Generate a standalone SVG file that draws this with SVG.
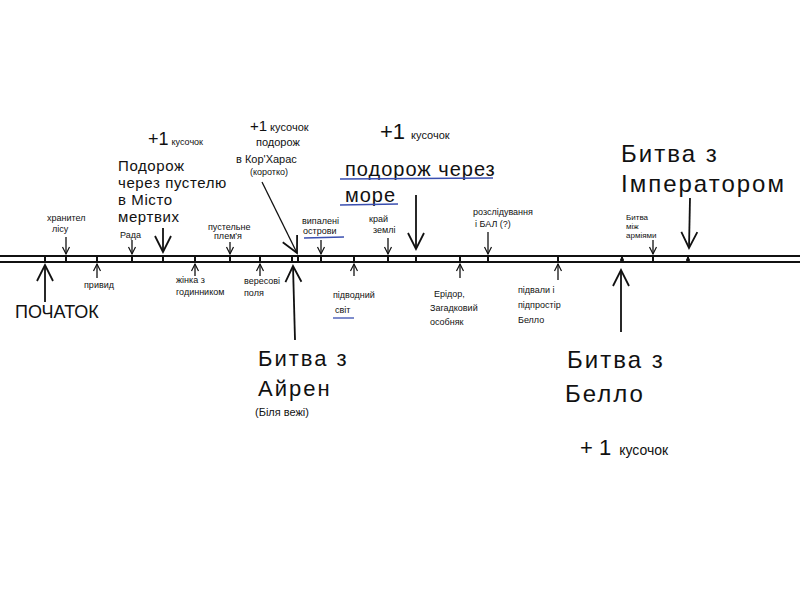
<svg xmlns="http://www.w3.org/2000/svg" width="800" height="600" viewBox="0 0 800 600">
<style>
text{font-family:"Liberation Sans","DejaVu Sans",sans-serif;fill:#111}
.s{font-size:9px}
.m{font-size:11px}
.b{font-size:18px}
.d{font-size:15px;letter-spacing:0.6px}
.xl{font-size:22px;letter-spacing:2px}
.c{stroke:#111;stroke-width:1.3;fill:none}
.cb{stroke:#111;stroke-width:1.8;fill:none}
.u{stroke:#3a4fb0;stroke-width:1.3;fill:none}
.tl{stroke:#111;stroke-width:2;fill:none}
</style>
<defs>
<marker id="ah" markerUnits="userSpaceOnUse" markerWidth="10" markerHeight="10" refX="8" refY="5" orient="auto"><path d="M1,1.5 L8,5 L1,8.5" fill="none" stroke="#111" stroke-width="1.2"/></marker>
<marker id="ahL" markerUnits="userSpaceOnUse" markerWidth="20" markerHeight="20" refX="17" refY="10" orient="auto"><path d="M1,2 L17,10 L1,18" fill="none" stroke="#111" stroke-width="1.8"/></marker>
</defs>
<rect width="800" height="600" fill="#fff"/>
<g id="timeline">
<line class="tl" x1="0" y1="256" x2="800" y2="256"/>
<line class="tl" x1="0" y1="262" x2="800" y2="262"/>
<path class="tl" d="M45,256V262M66,256V262M97,256V262M132,256V262M163,256V262M195,256V262M230,256V262M260,256V262M292,256V262M298,256V262M321,256V262M354,256V262M388,256V262M416,256V262M460,256V262M488,256V262M558,256V262M622,256V262M653,256V262M688,256V262"/>
<circle cx="622" cy="260" r="2" fill="#111"/>
<circle cx="688" cy="260" r="2" fill="#111"/>
</g>
<g id="connectors">
<line class="cb" x1="45" y1="302" x2="45" y2="265" marker-end="url(#ahL)"/>
<line class="c" x1="66" y1="237" x2="66" y2="254" marker-end="url(#ah)"/>
<line class="c" x1="97" y1="278" x2="97" y2="264" marker-end="url(#ah)"/>
<line class="c" x1="132" y1="240" x2="132" y2="254" marker-end="url(#ah)"/>
<line class="cb" x1="163" y1="228" x2="163" y2="252" marker-end="url(#ahL)"/>
<line class="c" x1="195" y1="276" x2="195" y2="264" marker-end="url(#ah)"/>
<line class="c" x1="230" y1="242" x2="230" y2="254" marker-end="url(#ah)"/>
<line class="c" x1="260" y1="276" x2="260" y2="264" marker-end="url(#ah)"/>
<line class="c" x1="262" y1="182" x2="297" y2="253" marker-end="url(#ahL)"/>
<line class="cb" x1="295" y1="340" x2="293" y2="266" marker-end="url(#ahL)"/>
<line class="c" x1="321" y1="240" x2="321" y2="254" marker-end="url(#ah)"/>
<line class="c" x1="354" y1="276" x2="354" y2="264" marker-end="url(#ah)"/>
<line class="c" x1="388" y1="238" x2="388" y2="254" marker-end="url(#ah)"/>
<line class="cb" x1="416" y1="195" x2="416" y2="249" marker-end="url(#ahL)"/>
<line class="c" x1="460" y1="278" x2="460" y2="264" marker-end="url(#ah)"/>
<line class="c" x1="488" y1="232" x2="488" y2="254" marker-end="url(#ah)"/>
<line class="c" x1="558" y1="280" x2="558" y2="264" marker-end="url(#ah)"/>
<line class="cb" x1="621" y1="332" x2="621" y2="270" marker-end="url(#ahL)"/>
<line class="c" x1="653" y1="240" x2="653" y2="254" marker-end="url(#ah)"/>
<line class="cb" x1="690" y1="198" x2="689" y2="248" marker-end="url(#ahL)"/>
</g>
<g id="start"><text class="b" x="15" y="318">ПОЧАТОК</text></g>
<g id="keeper"><text class="s" x="47" y="221">хранител</text><text class="s" x="52" y="232">лісу</text></g>
<g id="ghost"><text class="s" x="84" y="288">привид</text></g>
<g id="council"><text class="s" x="120" y="238">Рада</text></g>
<g id="desert">
<text x="148" y="145"><tspan style="font-size:18px">+1</tspan><tspan class="s" dx="3">кусочок</tspan></text>
<text class="d" x="118" y="171">Подорож</text>
<text class="d" x="118" y="188">через пустелю</text>
<text class="d" x="118" y="205">в Місто</text>
<text class="d" x="118" y="222">мертвих</text>
</g>
<g id="clockwoman"><text class="s" x="176" y="283">жінка з</text><text class="s" x="176" y="295">годинником</text></g>
<g id="tribe"><text class="s" x="208" y="230">пустельне</text><text class="s" x="214" y="239">плем'я</text></g>
<g id="heath"><text class="s" x="244" y="284">вересові</text><text class="s" x="244" y="296">поля</text></g>
<g id="korharas">
<text x="250" y="131"><tspan style="font-size:15px">+1</tspan><tspan class="m" dx="3">кусочок</tspan></text>
<text class="m" x="256" y="146">подорож</text>
<text class="m" x="236" y="163">в  Кор'Харас</text>
<text class="s" x="250" y="175">(коротко)</text>
</g>
<g id="airen">
<text class="xl" x="258" y="366">Битва з</text>
<text class="xl" x="258" y="396">Айрен</text>
<text class="m" x="255" y="416">(Біля вежі)</text>
</g>
<g id="burned"><text class="s" x="302" y="224">випалені</text><text class="s" x="303" y="234">острови</text><line class="u" x1="304" y1="238" x2="344" y2="237"/></g>
<g id="underwater"><text class="s" x="333" y="298">підводний</text><text class="s" x="335" y="313">світ</text><line class="u" x1="333" y1="318" x2="354" y2="318"/></g>
<g id="edge"><text class="s" x="369" y="222">край</text><text class="s" x="373" y="233">землі</text></g>
<g id="sea">
<text x="380" y="139"><tspan style="font-size:22px">+1</tspan><tspan class="m" dx="6">кусочок</tspan></text>
<text class="xl" x="345" y="176" style="font-size:20px;letter-spacing:1px">подорож через</text>
<text class="xl" x="345" y="202" style="font-size:20px;letter-spacing:1px">море</text>
<line class="u" x1="340" y1="179" x2="493" y2="178"/>
<line class="u" x1="340" y1="205" x2="398" y2="204"/>
</g>
<g id="eridor"><text class="s" x="434" y="297">Ерідор,</text><text class="s" x="430" y="311">Загадковий</text><text class="s" x="430" y="325">особняк</text></g>
<g id="ball"><text class="s" x="473" y="215">розслідування</text><text class="s" x="475" y="227">і БАЛ (?)</text></g>
<g id="cellars"><text class="s" x="518" y="293">підвали і</text><text class="s" x="518" y="308">підпростір</text><text class="s" x="518" y="323">Белло</text></g>
<g id="bello">
<text class="xl" x="567" y="368" style="font-size:24px">Битва з</text>
<text class="xl" x="565" y="402" style="font-size:24px">Белло</text>
<text x="580" y="455"><tspan style="font-size:22px">+ 1</tspan><tspan class="m" dx="8" style="font-size:14px">кусочок</tspan></text>
</g>
<g id="armies"><text class="s" x="626" y="220" style="font-size:8px">Битва</text><text class="s" x="626" y="229" style="font-size:8px">між</text><text class="s" x="626" y="238" style="font-size:8px">арміями</text></g>
<g id="emperor">
<text class="xl" x="621" y="162" style="font-size:24px">Битва з</text>
<text class="xl" x="621" y="192" style="font-size:24px">Імператором</text>
</g>
</svg>
